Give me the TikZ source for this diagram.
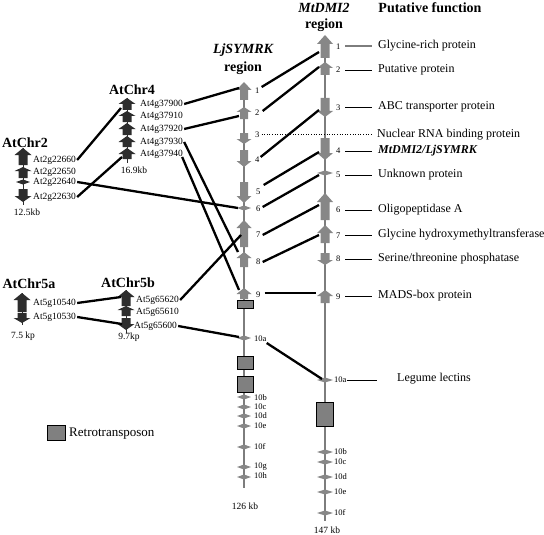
\documentclass[tikz,border=0pt]{standalone}
\usepackage{fontspec}
\setmainfont{Liberation Serif}
\definecolor{axisgray}{RGB}{125,125,125}
\definecolor{genegray}{RGB}{135,135,135}
\definecolor{retrogray}{RGB}{128,128,128}
\definecolor{atdark}{RGB}{45,45,45}
\newcommand{\gup}[6]{\fill (#1,#2) -- (#1+#5,#3) -- (#1+#6,#3) -- (#1+#6,#4) -- (#1-#6,#4) -- (#1-#6,#3) -- (#1-#5,#3) -- cycle;}
\newcommand{\gdown}[6]{\fill (#1-#6,#2) -- (#1+#6,#2) -- (#1+#6,#3) -- (#1+#5,#3) -- (#1,#4) -- (#1-#5,#3) -- (#1-#6,#3) -- cycle;}
\newcommand{\gtick}[3]{\fill (#1-#3,#2) -- (#1,#2-2.5) -- (#1+#3,#2) -- (#1,#2+2.5) -- cycle;}
\begin{document}
\begin{tikzpicture}[x=1pt,y=-1pt,
  axisline/.style={line width=2.6pt, draw=axisgray},
  thinaxis/.style={line width=1pt, draw=atdark},
  conn/.style={line width=2.3pt, draw=black},
  retro/.style={draw=black, fill=retrogray, line width=0.7pt, inner sep=0},
  numlbl/.style={font=\fontsize{8.5}{9}\selectfont, inner sep=0, anchor=west},
  genelbl/.style={font=\fontsize{9.5}{11}\selectfont, inner sep=0, anchor=west},
  kblbl/.style={font=\fontsize{9.5}{11}\selectfont, inner sep=0},
  funclbl/.style={font=\fontsize{12}{14}\selectfont, inner sep=0, anchor=west},
  ttl/.style={font=\fontsize{14}{16}\selectfont\bfseries, inner sep=0},
  fline/.style={line width=0.8pt, draw=black}]
\useasboundingbox (0,0) rectangle (544,535);

% ---------- titles ----------
\node[ttl] (tmt1) at (324,8) {\itshape MtDMI2};
\node[ttl] (tmt2) at (324,25) {region};
\node[ttl] (tlj1) at (243,50) {\itshape LjSYMRK};
\node[ttl] (tlj2) at (243,68) {region};
\node[ttl] (tpf) at (430,8) {Putative function};
\node[ttl] (tc4) at (132,90) {AtChr4};
\node[ttl] (tc2) at (25,143) {AtChr2};
\node[ttl] (tc5a) at (29,284) {AtChr5a};
\node[ttl] (tc5b) at (128,283) {AtChr5b};

% ---------- axes ----------
\draw[axisline] (244,84) -- (244,488);
\draw[axisline] (325,40) -- (325,521);
\draw[thinaxis] (127,98) -- (127,163);
\draw[thinaxis] (23,148) -- (23,205);
\draw[thinaxis] (22,293) -- (22,325);
\draw[thinaxis] (126,290) -- (126,333);

% ---------- LjSYMRK genes ----------
\begin{scope}[fill=genegray]
\gup{244}{82}{90}{100}{7.5}{4}
\gup{244}{107}{112}{119}{7.5}{4}
\gdown{244}{133}{139}{144}{7.5}{4}
\gdown{244}{150}{161}{167}{7.5}{4}
\gdown{244}{182}{196}{203}{7.5}{4}
\gtick{244}{208}{7}
\gup{244}{220}{228}{247}{7.5}{4}
\gup{244}{252}{258}{267}{7.5}{4}
\gup{244}{288}{294}{299}{7.5}{4}
\gtick{244}{338}{7}
\gtick{244}{397}{7}
\gtick{244}{407}{7}
\gtick{244}{416}{7}
\gtick{244}{426}{7}
\gtick{244}{447}{7}
\gtick{244}{467}{7}
\gtick{244}{477}{7}
% MtDMI2 genes
\gup{325}{35}{44}{58}{8}{4.5}
\gup{325}{62}{68}{75}{8}{4.5}
\gdown{325}{98}{111}{117}{8}{4.5}
\gdown{325}{138}{153}{160}{8}{4.5}
\gtick{325}{173}{8}
\gup{325}{193}{202}{220}{8}{4.5}
\gup{325}{225}{233}{243}{8}{4.5}
\gdown{325}{253}{260}{265}{8}{4.5}
\gup{325}{290}{296}{303}{8}{4.5}
\gtick{325}{380}{8}
\gtick{325}{452}{8}
\gtick{325}{462}{8}
\gtick{325}{477}{8}
\gtick{325}{492}{8}
\gtick{325}{513}{8}
\end{scope}

% ---------- Arabidopsis genes ----------
\begin{scope}[fill=atdark]
\gup{127}{98}{104}{110}{8.5}{4.5}
\gup{127}{111}{116}{122}{8.5}{4.5}
\gup{127}{123}{129}{135}{8.5}{4.5}
\gup{127}{136}{142}{147}{8.5}{4.5}
\gup{127}{148}{154}{159}{8.5}{4.5}
\gup{23}{148}{155}{165}{8.5}{4.5}
\gup{23}{167}{171}{178}{8.5}{4.5}
\gtick{23}{182}{7}
\gdown{23}{189}{196}{202}{8.5}{4.5}
\gup{22}{293}{300}{312}{8.5}{4.5}
\gdown{22}{313}{318}{323}{8.5}{4.5}
\gup{126}{290}{297}{306}{8.5}{4.5}
\gup{126}{306}{310}{316}{8.5}{4.5}
\gdown{126}{318}{324}{330}{8.5}{4.5}
\end{scope}

% ---------- retrotransposons ----------
\node[retro, minimum width=16pt, minimum height=8pt] (r1) at (245,304) {};
\node[retro, minimum width=16pt, minimum height=13pt] (r2) at (245,362.5) {};
\node[retro, minimum width=16pt, minimum height=16pt] (r3) at (245,384) {};
\node[retro, minimum width=17pt, minimum height=24pt] (r4) at (324.5,414) {};
\node[retro, minimum width=18pt, minimum height=15pt] (rleg) at (56,432.5) {};
\node[funclbl, font=\fontsize{13}{15}\selectfont] (tleg) at (69,434) {Retrotransposon};

% ---------- LjSYMRK labels ----------
\node[numlbl] (lj1) at (255,91) {1};
\node[numlbl] (lj2) at (255,113) {2};
\node[numlbl] (lj3) at (255,135) {3};
\node[numlbl] (lj4) at (255,160) {4};
\node[numlbl] (lj5) at (256,192) {5};
\node[numlbl] (lj6) at (256,209) {6};
\node[numlbl] (lj7) at (256,235) {7};
\node[numlbl] (lj8) at (256,262) {8};
\node[numlbl] (lj9) at (256,295) {9};
\node[numlbl] (lj10a) at (254,339) {10a};
\node[numlbl] (lj10b) at (254,398) {10b};
\node[numlbl] (lj10c) at (254,407) {10c};
\node[numlbl] (lj10d) at (254,416) {10d};
\node[numlbl] (lj10e) at (254,426) {10e};
\node[numlbl] (lj10f) at (254,447) {10f};
\node[numlbl] (lj10g) at (254,467) {10g};
\node[numlbl] (lj10h) at (254,476) {10h};
\node[kblbl] (ljkb) at (245,506) {126 kb};

% ---------- MtDMI2 labels ----------
\node[numlbl] (mt1) at (336,47) {1};
\node[numlbl] (mt2) at (336,70) {2};
\node[numlbl] (mt3) at (336,108) {3};
\node[numlbl] (mt4) at (336,151) {4};
\node[numlbl] (mt5) at (336,175) {5};
\node[numlbl] (mt6) at (336,210) {6};
\node[numlbl] (mt7) at (336,236) {7};
\node[numlbl] (mt8) at (336,259) {8};
\node[numlbl] (mt9) at (336,297) {9};
\node[numlbl] (mt10a) at (334,380) {10a};
\node[numlbl] (mt10b) at (334,452) {10b};
\node[numlbl] (mt10c) at (334,462) {10c};
\node[numlbl] (mt10d) at (334,477) {10d};
\node[numlbl] (mt10e) at (334,492) {10e};
\node[numlbl] (mt10f) at (334,513) {10f};
\node[kblbl] (mtkb) at (327,530) {147 kb};

% ---------- putative functions ----------
\node[funclbl] (f1) at (378,46) {Glycine-rich protein};
\node[funclbl] (f2) at (378,70) {Putative protein};
\node[funclbl] (f3) at (378,107) {ABC transporter protein};
\node[funclbl] (f3b) at (377,135) {Nuclear RNA binding protein};
\node[funclbl] (f4) at (378,151) {\bfseries\itshape MtDMI2/LjSYMRK};
\node[funclbl] (f5) at (378,175) {Unknown protein};
\node[funclbl] (f6) at (378,210) {Oligopeptidase A};
\node[funclbl] (f7) at (378,235) {Glycine hydroxymethyltransferase};
\node[funclbl] (f8) at (378,259) {Serine/threonine phosphatase};
\node[funclbl] (f9) at (378,296) {MADS-box protein};
\node[funclbl] (f10) at (397,379) {Legume lectins};
\draw[fline, draw=axisgray, line width=1.2pt] (345,46) -- (372,46);
\draw[fline] (345,70) -- (372,70);
\draw[fline] (345,107) -- (372,107);
\draw[fline] (345,151) -- (372,151);
\draw[fline] (345,175) -- (372,175);
\draw[fline] (345,210) -- (372,210);
\draw[fline] (345,235) -- (372,235);
\draw[fline] (345,259) -- (372,259);
\draw[fline] (345,296) -- (372,296);
\draw[fline] (mt10a.east) -- (377,380);
\draw[line width=0.6pt, dotted] ([xshift=2pt,yshift=1pt]lj3.east) -- (371,134);

% ---------- Arabidopsis labels ----------
\node[genelbl] (a4g900) at (140,104) {At4g37900};
\node[genelbl] (a4g910) at (140,116) {At4g37910};
\node[genelbl] (a4g920) at (140,129) {At4g37920};
\node[genelbl] (a4g930) at (140,142) {At4g37930};
\node[genelbl] (a4g940) at (140,154) {At4g37940};
\node[kblbl] (kb4) at (134,170) {16.9kb};
\node[genelbl] (a2g660) at (33,160) {At2g22660};
\node[genelbl] (a2g650) at (33,172) {At2g22650};
\node[genelbl] (a2g640) at (33,182) {At2g22640};
\node[genelbl] (a2g630) at (33,197) {At2g22630};
\node[kblbl] (kb2) at (27,212) {12.5kb};
\node[genelbl] (a5g540) at (33,303) {At5g10540};
\node[genelbl] (a5g530) at (33,317) {At5g10530};
\node[kblbl] (kb5a) at (23,336) {7.5 kp};
\node[genelbl] (a5g620) at (136,300) {At5g65620};
\node[genelbl] (a5g610) at (136,312) {At5g65610};
\node[genelbl] (a5g600) at (134,326) {At5g65600};
\node[kblbl] (kb5b) at (129,337) {9.7kp};

% ---------- connector end points ----------
\coordinate (c4g1) at (121,108);
\coordinate (c4g5) at (122,157);
\coordinate (cl1) at (239,88);
\coordinate (cl2) at (239,116);
\coordinate (cl6) at (238,208);
\coordinate (cl7) at (241,235);
\coordinate (cl8) at (238,252);
\coordinate (cl9) at (239,290);
\coordinate (cl10a) at (239,337);
\coordinate (c5b1) at (121,297);
\coordinate (c5b3) at (122,324);
\coordinate (cm1) at (319,52);
\coordinate (cm2) at (319,67);
\coordinate (cm3) at (319,110);
\coordinate (cm4) at (319,152);
\coordinate (cm5) at (319,175);
\coordinate (cm6) at (319,205);
\coordinate (cm7) at (319,235);
\coordinate (cm9) at (316,293);
\coordinate (cm10a) at (322,379);

% ---------- connectors ----------
\draw[conn] ([xshift=1pt]a2g660.east) -- (c4g1);
\draw[conn] ([xshift=1pt]a2g630.east) -- (c4g5);
\draw[conn] ([xshift=1pt]a2g640.east) -- (cl6);
\draw[conn] ([xshift=1pt]a4g900.east) -- (cl1);
\draw[conn] ([xshift=1pt]a4g920.east) -- (cl2);
\draw[conn] ([xshift=1pt]a4g930.east) -- (cl8);
\draw[conn] ([xshift=-1pt,yshift=-3pt]a4g940.east) -- (cl9);
\draw[conn] ([xshift=1pt]a5g620.east) -- (cl7);
\draw[conn] ([xshift=1pt]a5g540.east) -- (c5b1);
\draw[conn] ([xshift=1pt]a5g530.east) -- (c5b3);
\draw[conn] ([xshift=1pt]a5g600.east) -- (cl10a);
\draw[conn] ([xshift=2pt,yshift=4pt]lj1.east) -- (cm1);
\draw[conn] ([xshift=3pt,yshift=2pt]lj2.east) -- (cm2);
\draw[conn] ([xshift=1pt,yshift=3pt]lj4.east) -- (cm3);
\draw[conn] ([xshift=3pt,yshift=7pt]lj5.east) -- (cm4);
\draw[conn] ([xshift=2pt,yshift=2pt]lj6.east) -- (cm5);
\draw[conn] ([xshift=2pt]lj7.east) -- (cm6);
\draw[conn] ([xshift=2pt]lj8.east) -- (cm7);
\draw[conn] ([xshift=4pt,yshift=2pt]lj9.east) -- (cm9);
\draw[conn] ([xshift=0pt,yshift=-4pt]lj10a.east) -- (cm10a);
\end{tikzpicture}
\end{document}
